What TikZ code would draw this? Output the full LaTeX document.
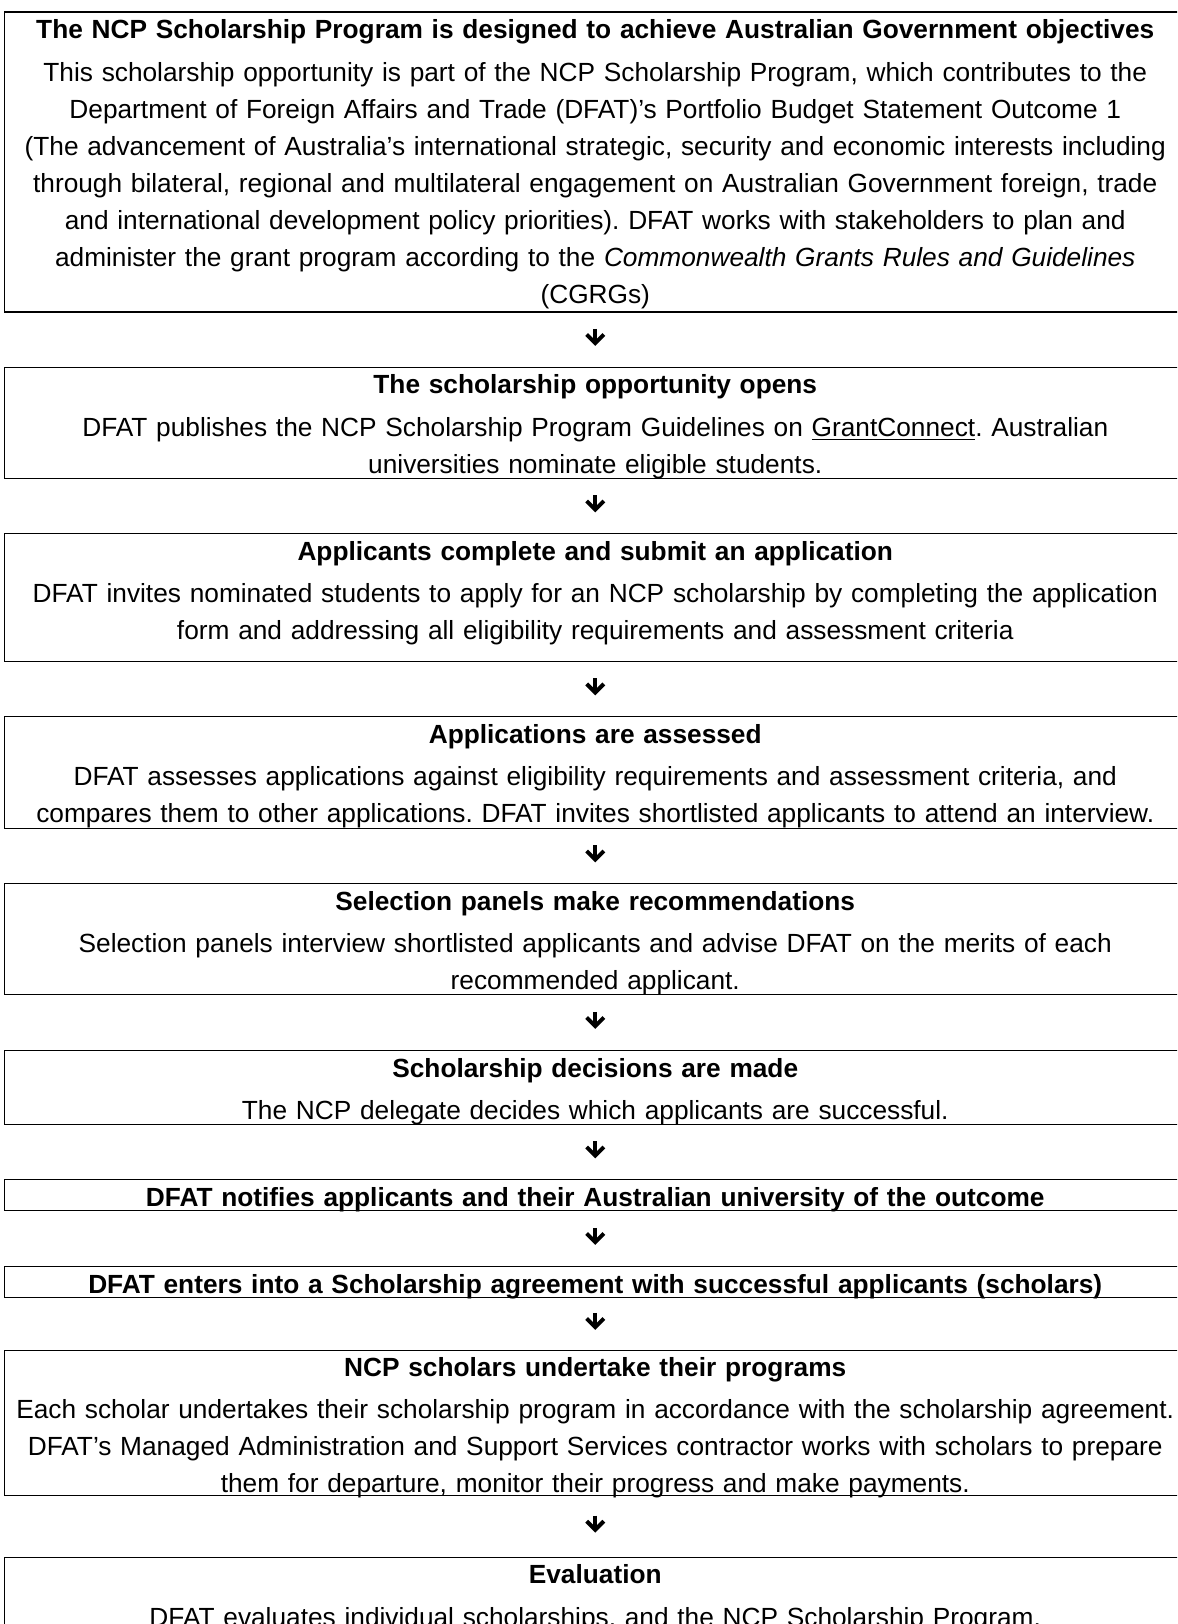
\documentclass[tikz,border=0pt]{standalone}
\usepackage{fontspec}
\setmainfont{Liberation Sans}
\usetikzlibrary{fit,calc}

\tikzset{
	stepframe/.style={draw=black, line width=0.45pt, inner sep=0pt, outer sep=0pt},
	steptext/.style={text width=531pt, align=center, inner sep=0pt, anchor=base,
		font=\fontsize{11.82}{16.65}\selectfont\frenchspacing},
	flowarrow/.style={draw=black, line width=1.8pt, line join=miter}
}
\newcommand{\titlegap}{\\[2.45pt]}
% heavy down arrow round a named point
\newcommand{\flowdown}[1]{%
	\draw[flowarrow] ([yshift=4.8pt]#1) -- ([yshift=-1.63pt]#1);
	\draw[flowarrow] ([xshift=-3.86pt,yshift=2.23pt]#1) -- ([yshift=-1.63pt]#1) -- ([xshift=3.86pt,yshift=2.23pt]#1);}

\begin{document}
\begin{tikzpicture}[x=0.45pt, y=-0.45pt]
	\useasboundingbox (0,0) rectangle (1177,1624);
	\clip (0,0) rectangle (1177,1624);
	\fill[white] (0,0) rectangle (1177,1624);

	% frames
	\node[stepframe, line width=0.8pt, fit={(4.5,12.3) (1186,311.7)}] (f1) {};
	\node[stepframe, fit={(4.5,367.3) (1186,478.3)}] (f2) {};
	\node[stepframe, fit={(4.5,533.7) (1186,661)}] (f3) {};
	\node[stepframe, fit={(4.5,716.7) (1186,828.3)}] (f4) {};
	\node[stepframe, fit={(4.5,883.7) (1186,994.3)}] (f5) {};
	\node[stepframe, fit={(4.5,1050.7) (1186,1124.3)}] (f6) {};
	\node[stepframe, fit={(4.5,1179.7) (1186,1210.3)}] (f7) {};
	\node[stepframe, fit={(4.5,1266.7) (1186,1297)}] (f8) {};
	\node[stepframe, fit={(4.5,1350) (1186,1495)}] (f9) {};
	\node[stepframe, fit={(4.5,1557.3) (1186,1700)}] (f10) {};

	% texts
	\node[steptext] (t1) at ($(f1.north)+(0,26.5)$) {\textbf{The NCP Scholarship Program is designed to achieve Australian Government objectives}\titlegap
		This scholarship opportunity is part of the NCP Scholarship Program, which contributes to the\\
		Department of Foreign Affairs and Trade (DFAT)’s Portfolio Budget Statement Outcome 1\\
		(The advancement of Australia’s international strategic, security and economic interests including\\
		through bilateral, regional and multilateral engagement on Australian Government foreign, trade\\
		and international development policy priorities). DFAT works with stakeholders to plan and\\
		administer the grant program according to the \textit{Commonwealth Grants Rules and Guidelines}\\
		(CGRGs)};
	\node[steptext] (t2) at ($(f2.north)+(0,26.5)$) {\textbf{The scholarship opportunity opens}\titlegap
		DFAT publishes the NCP Scholarship Program Guidelines on \underline{GrantConnect}. Australian\\
		universities nominate eligible students.};
	\node[steptext] (t3) at ($(f3.north)+(0,26.5)$) {\textbf{Applicants complete and submit an application}\titlegap
		DFAT invites nominated students to apply for an NCP scholarship by completing the application\\
		form and addressing all eligibility requirements and assessment criteria};
	\node[steptext] (t4) at ($(f4.north)+(0,26.5)$) {\textbf{Applications are assessed}\titlegap
		DFAT assesses applications against eligibility requirements and assessment criteria, and\\
		compares them to other applications. DFAT invites shortlisted applicants to attend an interview.};
	\node[steptext] (t5) at ($(f5.north)+(0,26.5)$) {\textbf{Selection panels make recommendations}\titlegap
		Selection panels interview shortlisted applicants and advise DFAT on the merits of each\\
		recommended applicant.};
	\node[steptext] (t6) at ($(f6.north)+(0,26.5)$) {\textbf{Scholarship decisions are made}\titlegap
		The NCP delegate decides which applicants are successful.};
	\node[steptext] (t7) at ($(f7.north)+(0,26.5)$) {\textbf{DFAT notifies applicants and their Australian university of the outcome}};
	\node[steptext] (t8) at ($(f8.north)+(0,26.5)$) {\textbf{DFAT enters into a Scholarship agreement with successful applicants (scholars)}};
	\node[steptext] (t9) at ($(f9.north)+(0,26.5)$) {\textbf{NCP scholars undertake their programs}\titlegap
		Each scholar undertakes their scholarship program in accordance with the scholarship agreement.\\
		DFAT’s Managed Administration and Support Services contractor works with scholars to prepare\\
		them for departure, monitor their progress and make payments.};
	\node[steptext] (t10) at ($(f10.north)+(0,26.5)$) {\textbf{Evaluation}\titlegap
		DFAT evaluates individual scholarships, and the NCP Scholarship Program.};

	% arrows between the frames
	\path (f1.south) -- coordinate (m1) (f2.north);
	\path (f2.south) -- coordinate (m2) (f3.north);
	\path (f3.south) -- coordinate (m3) (f4.north);
	\path (f4.south) -- coordinate (m4) (f5.north);
	\path (f5.south) -- coordinate (m5) (f6.north);
	\path (f6.south) -- coordinate (m6) (f7.north);
	\path (f7.south) -- coordinate (m7) (f8.north);
	\path (f8.south) -- coordinate (m8) (f9.north);
	\path (f9.south) -- coordinate (m9) (f10.north);
	\flowdown{m1} \flowdown{m2} \flowdown{m3}
	\flowdown{m4} \flowdown{m5} \flowdown{m6}
	\flowdown{m7} \flowdown{m8} \flowdown{m9}
\end{tikzpicture}
\end{document}
